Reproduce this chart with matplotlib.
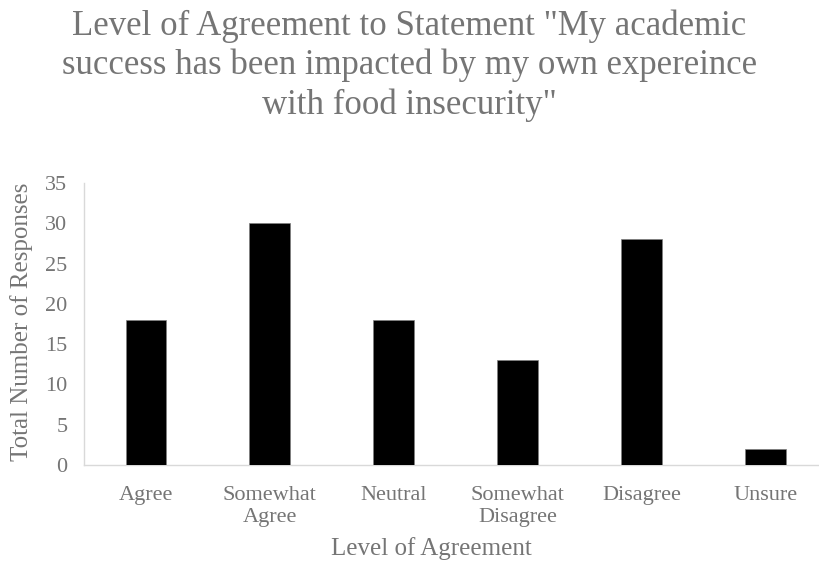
import matplotlib.pyplot as plt
import numpy as np

categories = ["Agree", "Somewhat\nAgree", "Neutral", "Somewhat\nDisagree", "Disagree", "Unsure"]
responses = [18, 30, 18, 13, 28, 2]
yticks = [0, 5, 10, 15, 20, 25, 30, 35]

plt.rcParams['font.family'] = ['Liberation Serif', 'DejaVu Serif']
gray = '#757575'

fig = plt.figure(figsize=(8.19, 5.65), dpi=100)
ax = fig.add_axes([84 / 819, 100 / 565, 1 - 84 / 819, 282 / 565])

x = np.arange(len(categories))
ax.bar(x, responses, width=0.33, color='black', edgecolor='#7f7f7f', linewidth=0.5, zorder=3)

ax.set_xlim(-0.5, 5.43)
ax.set_ylim(0, 35)
ax.set_yticks(yticks)
ax.set_xticks(x)
ax.set_xticklabels(categories, fontsize=16, color=gray, linespacing=1.2)
ax.tick_params(axis='y', labelsize=16, labelcolor=gray, length=0, pad=12)
ax.tick_params(axis='x', length=0, pad=15)

for side in ['top', 'right']:
    ax.spines[side].set_visible(False)
for side in ['left', 'bottom']:
    ax.spines[side].set_color('#d9d9d9')
    ax.spines[side].set_linewidth(1.0)

# axis titles placed in figure pixels
fig.text(22 / 819, 1 - 322 / 565, "Total Number of Responses", rotation=90,
         ha='center', va='center', fontsize=18, color=gray)
fig.text(431 / 819, 1 - 549 / 565, "Level of Agreement",
         ha='center', va='center', fontsize=18, color=gray)

fig.text(0.5, 0.984, 'Level of Agreement to Statement "My academic\nsuccess has been impacted by my own expereince\nwith food insecurity"',
         ha='center', va='top', fontsize=25, color=gray, linespacing=1.24)

fig.savefig("out.png", dpi=100)
